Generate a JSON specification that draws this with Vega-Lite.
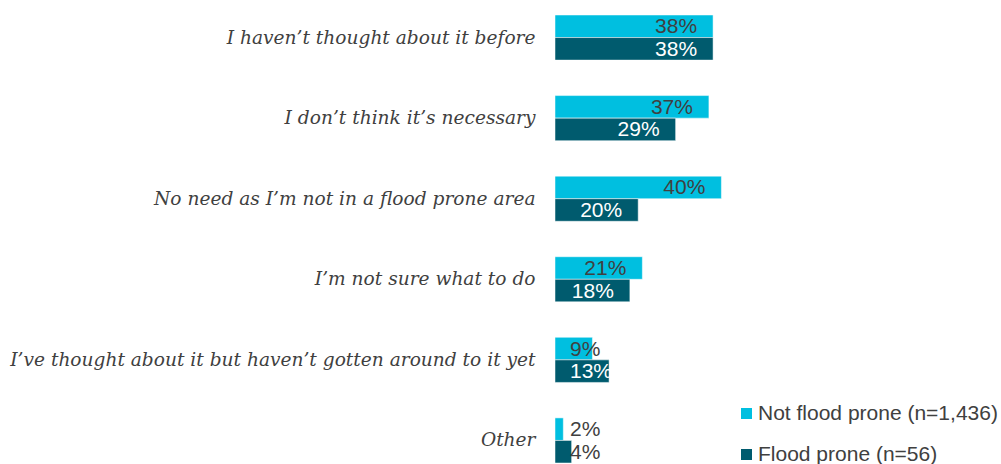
{
  "$schema": "https://vega.github.io/schema/vega-lite/v6.json",
  "autosize": "none",
  "width": 416,
  "height": 448,
  "padding": {"left": 555, "top": 15, "right": 30, "bottom": 1},
  "background": "white",
  "config": {"view": {"stroke": null}},
  "data": {
    "values": [
      {"reason": "I haven’t thought about it before", "series": "Not flood prone (n=1,436)", "value": 38},
      {"reason": "I haven’t thought about it before", "series": "Flood prone (n=56)", "value": 38},
      {"reason": "I don’t think it’s necessary", "series": "Not flood prone (n=1,436)", "value": 37},
      {"reason": "I don’t think it’s necessary", "series": "Flood prone (n=56)", "value": 29},
      {"reason": "No need as I’m not in a flood prone area", "series": "Not flood prone (n=1,436)", "value": 40},
      {"reason": "No need as I’m not in a flood prone area", "series": "Flood prone (n=56)", "value": 20},
      {"reason": "I’m not sure what to do", "series": "Not flood prone (n=1,436)", "value": 21},
      {"reason": "I’m not sure what to do", "series": "Flood prone (n=56)", "value": 18},
      {"reason": "I’ve thought about it but haven’t gotten around to it yet", "series": "Not flood prone (n=1,436)", "value": 9},
      {"reason": "I’ve thought about it but haven’t gotten around to it yet", "series": "Flood prone (n=56)", "value": 13},
      {"reason": "Other", "series": "Not flood prone (n=1,436)", "value": 2},
      {"reason": "Other", "series": "Flood prone (n=56)", "value": 4}
    ]
  },
  "transform": [{"calculate": "datum.value + '%'", "as": "label"}],
  "encoding": {
    "y": {
      "field": "reason",
      "type": "nominal",
      "sort": null,
      "scale": {"paddingInner": 0.44, "paddingOuter": 0},
      "axis": {
        "title": null,
        "domain": false,
        "ticks": false,
        "labelPadding": 20,
        "labelFont": "DejaVu Serif",
        "labelFontStyle": "italic",
        "labelFontSize": 18.6,
        "labelColor": "#404040",
        "labelLimit": 600
      }
    },
    "yOffset": {
      "field": "series",
      "type": "nominal",
      "sort": ["Not flood prone (n=1,436)", "Flood prone (n=56)"]
    }
  },
  "layer": [
    {
      "mark": {"type": "bar", "stroke": "white", "strokeWidth": 0.5},
      "encoding": {
        "x": {
          "field": "value",
          "type": "quantitative",
          "scale": {"domain": [0, 100]},
          "axis": null
        },
        "color": {
          "field": "series",
          "type": "nominal",
          "sort": ["Not flood prone (n=1,436)", "Flood prone (n=56)"],
          "scale": {"domain": ["Not flood prone (n=1,436)", "Flood prone (n=56)"], "range": ["#00BFE0", "#005B6E"]},
          "legend": {
            "title": null,
            "orient": "none",
            "legendX": 181,
            "legendY": 388,
            "symbolType": "square",
            "symbolSize": 121,
            "symbolStrokeWidth": 0,
            "labelFont": "Liberation Sans",
            "labelFontSize": 21,
            "labelColor": "#404040",
            "labelOffset": 1,
            "rowPadding": 19,
            "labelLimit": 400
          }
        }
      }
    },
    {
      "transform": [{"filter": "datum.value >= 15"}],
      "mark": {"type": "text", "align": "right", "baseline": "middle", "dx": -16, "dy": 1, "font": "Liberation Sans", "fontSize": 21},
      "encoding": {
        "x": {"field": "value", "type": "quantitative"},
        "text": {"field": "label", "type": "nominal"},
        "color": {
          "condition": {"test": "datum.series === 'Flood prone (n=56)'", "value": "white"},
          "value": "#404040"
        }
      }
    },
    {
      "transform": [{"filter": "datum.value < 15"}],
      "mark": {"type": "text", "align": "left", "baseline": "middle", "dx": 15, "dy": 1, "font": "Liberation Sans", "fontSize": 21},
      "encoding": {
        "x": {"datum": 0, "type": "quantitative"},
        "text": {"field": "label", "type": "nominal"},
        "color": {
          "condition": {"test": "datum.series === 'Flood prone (n=56)' && datum.value >= 10", "value": "white"},
          "value": "#404040"
        }
      }
    }
  ]
}
